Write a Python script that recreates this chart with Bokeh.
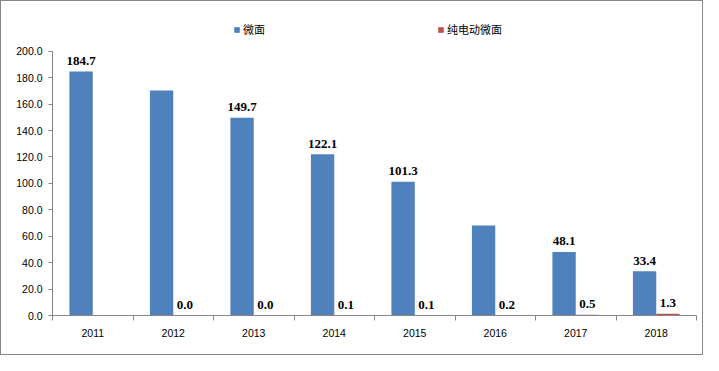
from bokeh.plotting import figure
from bokeh.models import ColumnDataSource, FixedTicker, Legend, LegendItem, Range1d
from bokeh.transform import dodge
from bokeh.core.properties import value
from bokeh.embed import file_html
from bokeh.resources import INLINE

years = [2011, 2012, 2013, 2014, 2015, 2016, 2017, 2018]
micro_van = [184.7, 170.3, 149.7, 122.1, 101.3, 68.1, 48.1, 33.4]
ev_micro_van = [float("nan"), 0.0, 0.0, 0.1, 0.1, 0.2, 0.5, 1.3]
micro_labels = ["184.7", "", "149.7", "122.1", "101.3", "", "48.1", "33.4"]
ev_labels = ["", "0.0", "0.0", "0.1", "0.1", "0.2", "0.5", "1.3"]
y_ticks = [0, 20, 40, 60, 80, 100, 120, 140, 160, 180, 200]
series_names = ["微面", "纯电动微面"]

BLUE = "#4F81BD"
RED = "#C0504D"
AXIS = "#868686"

src = ColumnDataSource(dict(x=years, a=micro_van, b=ev_micro_van,
                            la=micro_labels, lb=ev_labels))

p = figure(width=703, height=355, output_backend="svg", toolbar_location=None,
           x_range=Range1d(years[0] - 0.5, years[-1] + 0.5),
           y_range=Range1d(0, 224),
           min_border_left=51, min_border_right=8, min_border_top=18,
           min_border_bottom=41)
p.styles = {"border": f"1px solid {AXIS}", "box-sizing": "border-box"}
p.outline_line_color = None
p.xgrid.visible = False
p.ygrid.visible = False

w = 0.29
r1 = p.vbar(x=dodge("x", -0.145, range=p.x_range), top="a", width=w, source=src,
            fill_color=BLUE, line_color=None)
r2 = p.vbar(x=dodge("x", 0.145, range=p.x_range), top="b", width=w, source=src,
            fill_color=RED, line_color=None)

lab_kw = dict(text_font=value("Liberation Serif"), text_font_style="bold",
              text_font_size="13px", text_color="black", text_align="center",
              text_baseline="alphabetic", y_offset=-10.5, source=src)
p.text(x=dodge("x", -0.145, range=p.x_range), y="a", text="la", **lab_kw)
p.text(x=dodge("x", 0.145, range=p.x_range), y="b", text="lb", **lab_kw)

# axes
p.xaxis.ticker = FixedTicker(ticks=years, minor_ticks=[y - 0.5 for y in years] + [years[-1] + 0.5])
p.xaxis.major_tick_line_color = None
p.xaxis.minor_tick_in = 0
p.xaxis.minor_tick_out = 5
p.xaxis.minor_tick_line_color = AXIS
p.xaxis.axis_line_color = AXIS
p.xaxis.major_label_standoff = 7
p.xaxis.major_label_text_font = "Liberation Sans"
p.xaxis.major_label_text_font_size = "10.5px"
p.xaxis.major_label_text_color = "black"

p.yaxis.bounds = (y_ticks[0], y_ticks[-1])
p.yaxis.ticker = FixedTicker(ticks=y_ticks, minor_ticks=[])
p.yaxis.major_label_overrides = {t: f"{t:.1f}" for t in y_ticks}
p.yaxis.major_tick_in = 0
p.yaxis.major_tick_out = 4
p.yaxis.major_tick_line_color = AXIS
p.yaxis.minor_tick_line_color = None
p.yaxis.axis_line_color = AXIS
p.yaxis.major_label_standoff = 6
p.yaxis.major_label_text_font = "Liberation Sans"
p.yaxis.major_label_text_font_size = "10.5px"
p.yaxis.major_label_text_color = "black"

legend = Legend(items=[LegendItem(label=series_names[0], renderers=[r1]),
                       LegendItem(label=series_names[1], renderers=[r2])],
                orientation="horizontal", location=(181, 278),
                glyph_width=7, glyph_height=7, label_standoff=3, spacing=172,
                padding=0, margin=0, border_line_color=None,
                background_fill_alpha=0,
                label_text_font="Noto Sans CJK SC",
                label_text_font_size="11px", label_text_color="black")
p.add_layout(legend, "center")

open("out.html", "w").write(file_html(p, INLINE))
